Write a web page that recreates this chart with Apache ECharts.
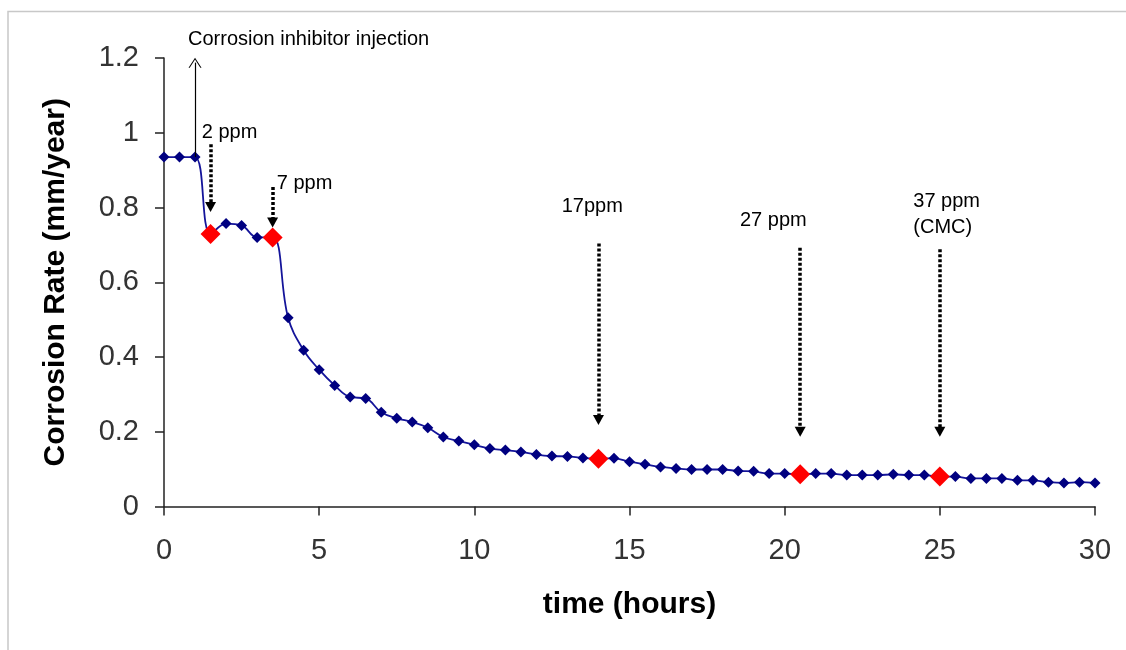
<!DOCTYPE html>
<html>
<head>
<meta charset="utf-8">
<script src="https://cdn.jsdelivr.net/npm/echarts@6/dist/echarts.min.js"></script>
<style>
  html, body { margin: 0; padding: 0; background: #fff; }
  #chart { width: 1126px; height: 650px; }
</style>
</head>
<body>
<div id="chart"></div>
<script>
// Corrosion rate measured every half hour
const timeHours = [
  0, 0.5, 1, 1.5, 2, 2.5, 3, 3.5, 4, 4.5, 5, 5.5, 6, 6.5, 7, 7.5, 8, 8.5, 9, 9.5,
  10, 10.5, 11, 11.5, 12, 12.5, 13, 13.5, 14, 14.5, 15, 15.5, 16, 16.5, 17, 17.5,
  18, 18.5, 19, 19.5, 20, 20.5, 21, 21.5, 22, 22.5, 23, 23.5, 24, 24.5, 25, 25.5,
  26, 26.5, 27, 27.5, 28, 28.5, 29, 29.5, 30
];
const corrosionRate = [
  0.935, 0.935, 0.935, 0.729, 0.757, 0.752, 0.720, 0.720, 0.505, 0.418,
  0.366, 0.324, 0.293, 0.289, 0.252, 0.236, 0.226, 0.211, 0.186, 0.175,
  0.165, 0.155, 0.151, 0.146, 0.139, 0.135, 0.134, 0.130, 0.128, 0.129,
  0.120, 0.113, 0.106, 0.102, 0.099, 0.099, 0.099, 0.095, 0.094, 0.088,
  0.088, 0.086, 0.088, 0.088, 0.084, 0.084, 0.084, 0.086, 0.084, 0.084,
  0.080, 0.080, 0.075, 0.075, 0.075, 0.070, 0.070, 0.065, 0.063, 0.065,
  0.063
];

// Inhibitor dosing steps (time, concentration label)
const doseTimes = [1.5, 3.5, 14, 20.5, 25];
const doseLabels = ['2 ppm', '7 ppm', '17ppm', '27 ppm', '37 ppm\n(CMC)'];
// label anchor (left edge, vertical middle) in axis units
const doseLabelPos = [[1.215, 1.0], [3.632, 0.865], [12.815, 0.804], [18.56, 0.765], [24.145, 0.7816]];
// dotted arrow start / end levels in axis units
const doseArrowFrom = [0.969, 0.855, 0.704, 0.692, 0.688];
const doseArrowTo = [0.8016, 0.760, 0.2313, 0.2, 0.2];

const injectionTime = 1;
const injectionLabel = 'Corrosion inhibitor injection';
const injectionLabelPos = [0.773, 1.25];
const injectionArrowTop = 1.1876;

const xTicks = { min: 0, max: 30, interval: 5 };
const yTicks = { min: 0, max: 1.2, interval: 0.2 };

const FONT = '"Liberation Sans", Arial, sans-serif';

const linePoints = timeHours.map((t, i) => [t, corrosionRate[i]]);
const dosePoints = doseTimes.map(t => [t, corrosionRate[timeHours.indexOf(t)]]);

const arrowLines = [
  [
    { coord: [injectionTime, corrosionRate[timeHours.indexOf(injectionTime)]], symbol: 'none',
      lineStyle: { type: 'solid', width: 1.2, color: '#000' } },
    { coord: [injectionTime, injectionArrowTop],
      symbol: 'path://M0,10 L6.5,0 L13,10 L11.8,10 L6.5,1.9 L1.2,10 Z', symbolSize: [13, 10] }
  ]
].concat(doseTimes.map((t, i) => [
  { coord: [t, doseArrowFrom[i]], symbol: 'none' },
  { coord: [t, doseArrowTo[i]], symbol: 'triangle', symbolSize: [11, 10] }
]));

const textMarks = doseLabels.map((s, i) => ({ coord: doseLabelPos[i], label: { formatter: s } }));

const axisCommon = {
  type: 'value',
  splitLine: { show: false },
  axisLine: { show: true, onZero: false, lineStyle: { color: '#222', width: 1.5 } },
  axisTick: { show: true, inside: false, length: 9, lineStyle: { color: '#222', width: 1.5 } },
  nameLocation: 'middle',
  nameTextStyle: { fontFamily: FONT, fontSize: 30, fontWeight: 'bold', color: '#000' }
};

const frame = {
  id: 'frame', type: 'rect', silent: true,
  shape: { x: 8, y: 11.5, width: 1200, height: 700 },
  style: { fill: 'none', stroke: '#c8c8c8', lineWidth: 1.5 }
};

const chart = echarts.init(document.getElementById('chart'), null, { renderer: 'canvas' });
chart.setOption({
  animation: false,
  backgroundColor: '#fff',
  graphic: [frame],
  grid: { left: 164, right: 31, top: 58, bottom: 143.5, containLabel: false },
  xAxis: Object.assign({}, axisCommon, xTicks, {
    name: 'time (hours)',
    nameGap: 83,
    axisLabel: { fontFamily: FONT, fontSize: 29, color: '#333', margin: 30 }
  }),
  yAxis: Object.assign({}, axisCommon, yTicks, {
    name: 'Corrosion Rate (mm/year)',
    nameRotate: 90,
    nameGap: 93,
    axisLabel: { fontFamily: FONT, fontSize: 29, color: '#333', margin: 25 }
  }),
  series: [
    {
      name: 'Corrosion rate',
      type: 'line',
      data: linePoints,
      clip: false,
      smooth: 0.4,
      symbol: 'diamond',
      symbolSize: 11,
      itemStyle: { color: '#000080' },
      lineStyle: { color: '#14149a', width: 1.8 },
      markLine: {
        silent: true,
        animation: false,
        label: { show: false },
        lineStyle: { type: [3, 2], width: 3.5, color: '#000' },
        itemStyle: { color: '#000' },
        emphasis: { disabled: true },
        data: arrowLines
      },
      markPoint: {
        silent: true,
        animation: false,
        symbol: 'circle',
        symbolSize: 0,
        label: {
          show: true, position: 'right', distance: 0,
          align: 'left', verticalAlign: 'middle',
          fontFamily: FONT, fontSize: 20, color: '#000', lineHeight: 26
        },
        data: textMarks
      },
      z: 2
    },
    {
      name: 'Dose steps',
      type: 'scatter',
      data: dosePoints,
      clip: false,
      symbol: 'diamond',
      symbolSize: 20,
      itemStyle: { color: '#ff0000', opacity: 1 },
      z: 3
    }
  ]
});

// The injection caption sits above the top of the value range, so place it
// through the grid's coordinate conversion instead of as a marker.
const injPx = chart.convertToPixel({ gridIndex: 0 }, injectionLabelPos);
chart.setOption({
  graphic: [frame, {
    id: 'injection-label', type: 'text', silent: true,
    x: injPx[0], y: injPx[1],
    style: {
      text: injectionLabel, fontFamily: FONT, fontSize: 20, fill: '#000',
      align: 'left', verticalAlign: 'middle'
    }
  }]
});
</script>
</body>
</html>
